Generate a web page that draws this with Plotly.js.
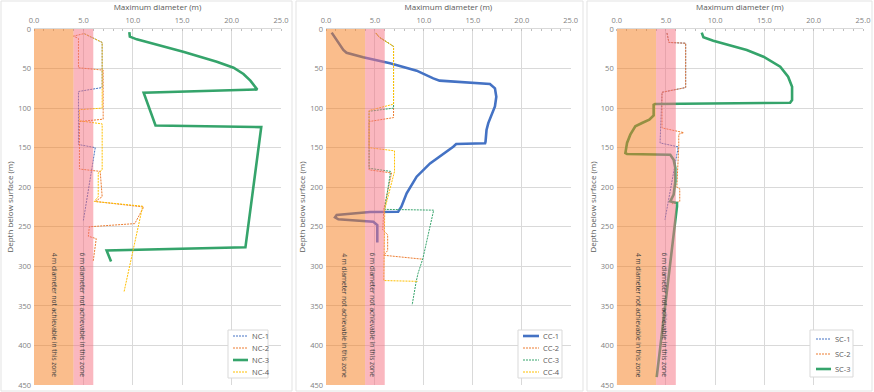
<!DOCTYPE html>
<html>
<head>
<meta charset="utf-8">
<script src="https://cdn.plot.ly/plotly-3.0.1.min.js"></script>
<style>html,body{margin:0;padding:0;background:#fff;}#chart{width:874px;height:392px;}</style>
</head>
<body>
<div id="chart"></div>
<script>
// ---------- data (diameter in m, depth in m) ----------
const nc1_d = [5.1, 6.9, 6.9, 4.5, 4.5, 6.2, 5.0];
const nc1_z = [6, 17, 74, 79, 146, 150, 242];
const nc2_d = [5.0, 4.0, 4.5, 4.5, 7.0, 7.0, 4.6, 4.6, 6.7, 6.9, 6.2, 11.1, 10.2, 5.6, 5.5, 6.3, 6.0];
const nc2_z = [6, 9, 12, 49, 52, 114, 117, 177, 180, 212, 218, 225, 246, 250, 262, 265, 293];
const nc3_d = [9.65, 9.7, 10.4, 11.7, 13.4, 15.1, 16.8, 18.5, 20.2, 21.2, 21.9, 22.4, 22.6, 11.1, 12.1, 12.3, 23.0, 21.4, 7.35, 7.8];
const nc3_z = [4, 9.7, 13.1, 17.3, 22.3, 28.7, 35, 41.3, 48.9, 56.9, 65.3, 73.7, 76.5, 80.5, 115, 122, 124, 276, 280, 294];
const nc4_d = [5.1, 6.9, 6.9, 4.6, 4.6, 6.9, 6.9, 6.5, 6.5, 6.1, 11.0, 9.1];
const nc4_z = [6, 17, 100, 102, 116, 120, 178, 182, 212, 218, 224, 333];

const cc1_d = [0.58, 1.09, 1.77, 2.1, 3.8, 6.54, 9.26, 10.96, 11.6, 16.75, 17.26, 17.4, 17.26, 16.58, 16.4, 16.3, 16.25, 13.3, 13.0, 10.63, 9.26, 8.24, 7.7, 7.37, 4.49, 1.09, 0.92, 1.26, 4.83, 5.24, 5.24];
const cc1_z = [4.6, 13.9, 26.5, 30, 35.8, 43.4, 52.7, 62.4, 65.3, 69.5, 75, 85.6, 98, 119, 127.7, 142.4, 144.5, 145.4, 148.8, 169.9, 186.7, 207.7, 224.6, 231, 231.4, 235, 238, 240.6, 243.6, 247.8, 270];
const cc2_d = [5.1, 5.4, 6.9, 6.9, 4.4, 4.4, 6.7, 5.9, 5.8, 6.3, 6.3, 5.9, 9.9];
const cc2_z = [5, 10, 22, 112, 117, 178, 182, 228, 254, 260, 280, 286, 291];
const cc3_d = [5.1, 5.4, 6.9, 6.9, 4.4, 4.4, 6.6, 6.0, 11.0, 9.9, 9.4, 9.2, 8.8];
const cc3_z = [5, 10, 22, 100, 104, 176, 180, 228, 229, 290, 309, 320, 349];
const cc4_d = [5.1, 5.4, 6.9, 6.9, 4.4, 4.4, 7.0, 7.0, 6.0, 5.9, 9.4];
const cc4_z = [5, 10, 22, 95, 103, 150, 154, 180, 228, 318, 319];

const sc1_d = [5.1, 5.3, 7.0, 7.0, 4.6, 4.4, 6.25, 4.9];
const sc1_z = [5, 17, 18, 74, 80, 144, 149, 241];
const sc2_d = [5.1, 5.3, 7.0, 7.0, 4.6, 4.6, 6.8, 6.3, 6.3, 6.1, 6.4, 6.4, 5.6];
const sc2_z = [5, 17, 18, 74, 80, 125, 131, 133, 148, 200, 202, 218, 221];
const sc3_d = [8.63, 8.8, 9.8, 11.5, 13.2, 14.9, 16.6, 17.4, 17.8, 17.8, 17.6, 3.89, 3.75, 3.75, 3.31, 2.57, 1.89, 1.38, 1.05, 0.88, 1.05, 5.44, 5.78, 5.95, 5.95, 5.78, 5.44, 6.12, 6.12, 4.06];
const sc3_z = [4.6, 10.5, 14.8, 20.2, 26.5, 35, 47.6, 60.3, 73, 89.8, 93.2, 94.8, 95.7, 109.2, 114.6, 118.8, 123, 133.6, 144, 156.8, 158, 158.9, 165.2, 175.7, 192.6, 209.4, 218, 220, 224.2, 440];

const xTicks = [0, 5, 10, 15, 20, 25];
const yTicks = [0, 50, 100, 150, 200, 250, 300, 350, 400, 450];
const zone4Label = '4 m diameter not achievable in this zone';
const zone6Label = '6 m diameter not achievable in this zone';

// ---------- styles ----------
const BLUE = '#4472C4', ORANGE = '#ED7D31', GREEN = '#35A46B', YELLOW = '#FFC000';
const FONT = 'Open Sans, Lato, sans-serif';
const DOT = '2px,1px';
const dotted = (c) => ({color: c, width: 1, dash: DOT});
const thick = (c) => ({color: c, width: 2.6});

function tr(name, x, y, line, ax) {
  return {type: 'scatter', mode: 'lines', name: name, x: x, y: y, line: line,
          xaxis: 'x' + ax, yaxis: 'y' + ax, showlegend: false, hoverinfo: 'skip'};
}

const data = [
  tr('NC-1', nc1_d, nc1_z, dotted(BLUE), ''),
  tr('NC-2', nc2_d, nc2_z, dotted(ORANGE), ''),
  tr('NC-3', nc3_d, nc3_z, thick(GREEN), ''),
  tr('NC-4', nc4_d, nc4_z, dotted(YELLOW), ''),
  tr('CC-1', cc1_d, cc1_z, thick(BLUE), '2'),
  tr('CC-2', cc2_d, cc2_z, dotted(ORANGE), '2'),
  tr('CC-3', cc3_d, cc3_z, dotted(GREEN), '2'),
  tr('CC-4', cc4_d, cc4_z, dotted(YELLOW), '2'),
  tr('SC-1', sc1_d, sc1_z, dotted(BLUE), '3'),
  tr('SC-2', sc2_d, sc2_z, dotted(ORANGE), '3'),
  tr('SC-3', sc3_d, sc3_z, thick(GREEN), '3')
];

const W = 874, H = 392;
const yDom = [1 - 385 / H, 1 - 29 / H];
const xDoms = [[34 / W, 281 / W], [326 / W, 570.7 / W], [616.7 / W, 863 / W]];

function xa(dom, anchor) {
  return {domain: dom, range: [0, 25], side: 'top', anchor: anchor,
    tickvals: xTicks, tickformat: '.1f', gridcolor: '#D9D9D9', gridwidth: 1,
    showline: true, linecolor: '#D9D9D9', ticks: '', zeroline: false, ticklabelstandoff: 2,
    tickfont: {family: FONT, size: 7.5, color: '#7F7F7F'},
    minor: {ticks: 'inside', dtick: 1, ticklen: 2, tickcolor: '#BFBFBF', showgrid: false},
    title: {text: 'Maximum diameter (m)', font: {family: FONT, size: 8, color: '#595959'}, standoff: 3},
    fixedrange: true};
}
function ya(anchor) {
  return {domain: yDom, range: [450, 0], anchor: anchor, tickvals: yTicks,
    gridcolor: '#D9D9D9', gridwidth: 1, zeroline: false, showline: false, ticks: '',
    ticklabelstandoff: 2,
    tickfont: {family: FONT, size: 7.5, color: '#7F7F7F'},
    title: {text: 'Depth below surface (m)', font: {family: FONT, size: 8, color: '#595959'}, standoff: 3},
    fixedrange: true};
}

// translucent zone overlays drawn above the traces, so the lines show through tinted
const ZONE_OP = 0.5;
function overlayColor(target) {
  return 'rgb(' + target.map(v => Math.max(0, Math.round(255 - (255 - v) / ZONE_OP))).join(',') + ')';
}
const ORANGE_ZONE = overlayColor([250, 189, 140]);
const PINK_ZONE = overlayColor([250, 183, 191]);

const shapes = [];
const annotations = [];
const suffix = ['', '2', '3'];
const txtX4 = [2.1, 1.95, 2.2];
const txtX6 = [4.95, 4.8, 4.9];
suffix.forEach((s, i) => {
  shapes.push({type: 'rect', xref: 'x' + s, yref: 'y' + s, x0: 0, x1: 4, y0: 0, y1: 450,
    fillcolor: ORANGE_ZONE, opacity: ZONE_OP, line: {width: 0}, layer: 'above'});
  shapes.push({type: 'rect', xref: 'x' + s, yref: 'y' + s, x0: 4, x1: 6, y0: 0, y1: 450,
    fillcolor: PINK_ZONE, opacity: ZONE_OP, line: {width: 0}, layer: 'above'});
  annotations.push({xref: 'x' + s, yref: 'y' + s, x: txtX4[i], y: 362, text: zone4Label,
    textangle: 90, showarrow: false, font: {family: FONT, size: 6.6, color: '#3F3F3F'}});
  annotations.push({xref: 'x' + s, yref: 'y' + s, x: txtX6[i], y: 362, text: zone6Label,
    textangle: 90, showarrow: false, font: {family: FONT, size: 6.6, color: '#3F3F3F'}});
});
// chart-area borders
[[1, 292], [296, 583], [587, 872]].forEach(b => {
  shapes.push({type: 'rect', xref: 'paper', yref: 'paper', x0: b[0] / W, x1: b[1] / W,
    y0: 1 / H, y1: 1 - 1 / H, line: {color: '#E3E3E3', width: 1}, fillcolor: 'rgba(0,0,0,0)', layer: 'below'});
});

// ---------- per-panel legends (box, line sample, label) ----------
const legendSpecs = [
  {box: [228, 268, 330, 378], line: [233, 248], text: 249.5, rows: [336, 348, 360, 372], traces: [0, 1, 2, 3]},
  {box: [518, 562, 330, 378], line: [523, 539], text: 540.5, rows: [336, 348, 360, 372], traces: [4, 5, 6, 7]},
  {box: [810, 853, 330, 377], line: [816, 831], text: 832.5, rows: [339, 354, 369], traces: [8, 9, 10]}
];
legendSpecs.forEach(L => {
  shapes.push({type: 'rect', xref: 'paper', yref: 'paper', x0: L.box[0] / W, x1: L.box[1] / W,
    y0: 1 - L.box[3] / H, y1: 1 - L.box[2] / H, fillcolor: '#FFFFFF',
    line: {color: '#D9D9D9', width: 1}, layer: 'above'});
  L.traces.forEach((ti, k) => {
    const t = data[ti];
    const yy = 1 - L.rows[k] / H;
    shapes.push({type: 'line', xref: 'paper', yref: 'paper', x0: L.line[0] / W, x1: L.line[1] / W,
      y0: yy, y1: yy, line: {color: t.line.color, width: t.line.width, dash: t.line.dash || 'solid'}, layer: 'above'});
    annotations.push({xref: 'paper', yref: 'paper', x: L.text / W, y: yy, xanchor: 'left', yanchor: 'middle',
      text: t.name, showarrow: false, font: {family: FONT, size: 7.5, color: '#595959'}});
  });
});

const layout = {
  width: W, height: H, margin: {l: 0, r: 0, t: 0, b: 0},
  paper_bgcolor: '#FFFFFF', plot_bgcolor: '#FFFFFF',
  font: {family: FONT},
  xaxis: xa(xDoms[0], 'y'), yaxis: ya('x'),
  xaxis2: xa(xDoms[1], 'y2'), yaxis2: ya('x2'),
  xaxis3: xa(xDoms[2], 'y3'), yaxis3: ya('x3'),
  shapes: shapes, annotations: annotations, showlegend: false
};

Plotly.newPlot('chart', data, layout, {displayModeBar: false, staticPlot: true});
</script>
</body>
</html>
